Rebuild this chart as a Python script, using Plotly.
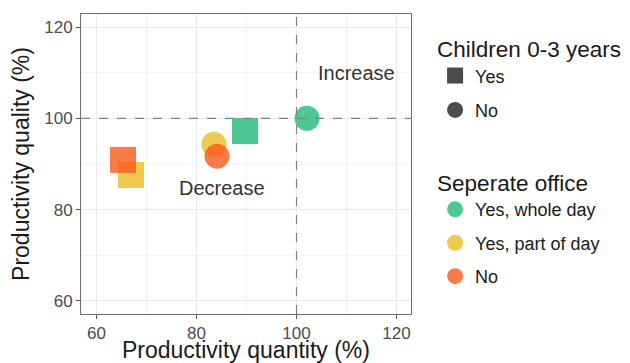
import plotly.graph_objects as go

# ---- data ----
children = ["Yes", "Yes", "Yes", "No", "No", "No"]
office = ["Yes, whole day", "Yes, part of day", "No", "Yes, whole day", "Yes, part of day", "No"]
quantity = [89.7, 66.9, 65.3, 102.1, 83.5, 84.1]
quality = [97.2, 87.6, 90.9, 100.0, 94.3, 91.7]

children_levels = ["Yes", "No"]
office_levels = ["Yes, whole day", "Yes, part of day", "No"]
office_colors = ["#1FBB77", "#E8BC22", "#F9591A"]
children_symbols = {"Yes": "square", "No": "circle"}
children_sizes = {"Yes": 26, "No": 25}

ref_x = 100
ref_y = 100
labels = ["Increase", "Decrease"]
label_x = [112, 85]
label_y = [110, 84.8]

FONT = "Liberation Sans, Arial, sans-serif"
ALPHA = 0.8

fig = go.Figure()

# main points, drawn per office level (green, yellow, orange)
for lvl, col in zip(office_levels, office_colors):
    idx = [i for i, o in enumerate(office) if o == lvl]
    fig.add_trace(go.Scatter(
        x=[quantity[i] for i in idx],
        y=[quality[i] for i in idx],
        mode="markers",
        marker=dict(color=col, opacity=ALPHA,
                    symbol=[children_symbols[children[i]] for i in idx],
                    size=[children_sizes[children[i]] for i in idx],
                    line=dict(width=0)),
        showlegend=False, hoverinfo="x+y",
    ))

# legend entries
for lvl in children_levels:
    fig.add_trace(go.Scatter(
        x=[None], y=[None], mode="markers", name=lvl, legend="legend",
        legendgroup="c_" + lvl,
        marker=dict(color="#333333", opacity=0.88, symbol=children_symbols[lvl], size=26),
    ))
for lvl, col in zip(office_levels, office_colors):
    fig.add_trace(go.Scatter(
        x=[None], y=[None], mode="markers", name=lvl, legend="legend2",
        legendgroup="o_" + lvl,
        marker=dict(color=col, opacity=ALPHA, symbol="circle", size=26),
    ))

fig.add_vline(x=ref_x, line=dict(color="#808080", width=1.2, dash="dash"))
fig.add_hline(y=ref_y, line=dict(color="#808080", width=1.2, dash="dash"))

for t, xx, yy in zip(labels, label_x, label_y):
    fig.add_annotation(x=xx, y=yy, text=t, showarrow=False,
                       font=dict(family=FONT, size=20, color="#333333"))

axis_common = dict(
    showgrid=True, gridcolor="#EBEBEB", gridwidth=1,
    minor=dict(showgrid=True, gridcolor="#F5F5F5", gridwidth=0.8, dtick=10),
    zeroline=False,
    showline=True, mirror=True, linecolor="#6E6E6E", linewidth=1,
    ticks="outside", ticklen=4, tickcolor="#555555",
    tickfont=dict(family=FONT, size=17, color="#4D4D4D"),
    dtick=20, tick0=0,
)

fig.update_xaxes(range=[56.9, 122.9], **axis_common,
                 title=dict(text="Productivity quantity (%)", standoff=21,
                            font=dict(family=FONT, size=23, color="#1A1A1A")))
fig.update_yaxes(range=[57.15, 122.85], **axis_common,
                 title=dict(text="Productivity quality (%)", standoff=8,
                            font=dict(family=FONT, size=23, color="#1A1A1A")))

fig.update_layout(
    width=622, height=355,
    margin=dict(l=73, r=219, t=6, b=49, autoexpand=False),
    plot_bgcolor="white", paper_bgcolor="white",
    font=dict(family=FONT, color="#1A1A1A"),
    legend=dict(title=dict(text="Children 0-3 years", font=dict(size=22.5, family=FONT)),
                font=dict(size=18, family=FONT), x=1.073, y=0.953, xanchor="left", yanchor="top",
                tracegroupgap=8, bgcolor="rgba(0,0,0,0)"),
    legend2=dict(title=dict(text="Seperate office", font=dict(size=22.5, family=FONT)),
                 font=dict(size=18, family=FONT), x=1.073, y=0.507, xanchor="left", yanchor="top",
                 tracegroupgap=7, bgcolor="rgba(0,0,0,0)"),
)

fig.write_html("out.html")
